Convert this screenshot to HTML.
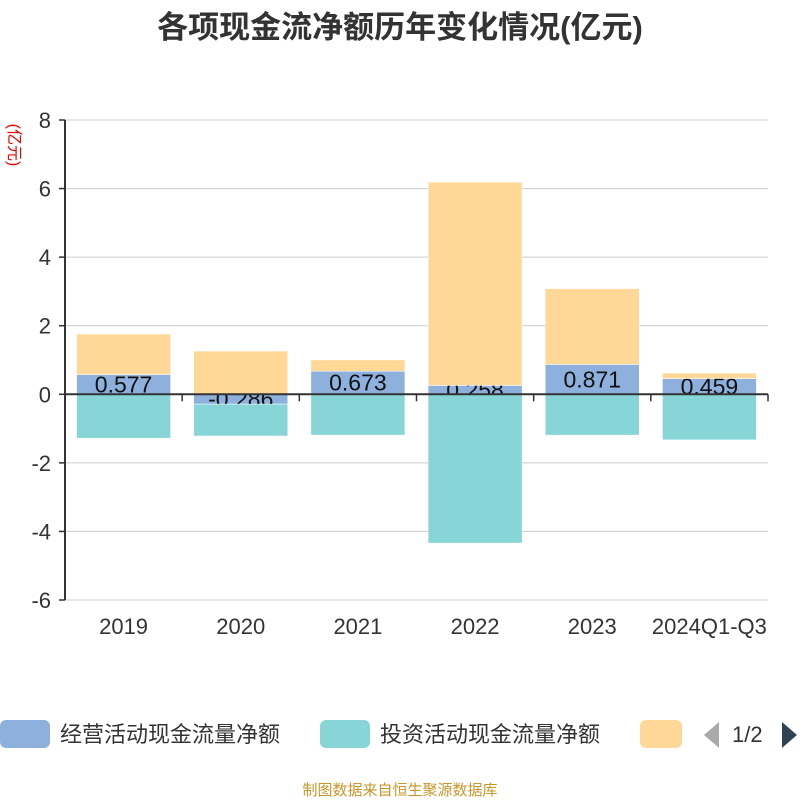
<!DOCTYPE html>
<html><head><meta charset="utf-8"><style>
body{margin:0;background:#fff;width:800px;height:800px;overflow:hidden;font-family:"Liberation Sans","Noto Sans CJK SC",sans-serif}
</style></head><body>
<svg id="c" width="800" height="800" style="font-family:'Liberation Sans','Noto Sans CJK SC',sans-serif">
<text x="400" y="38" text-anchor="middle" font-size="31" font-weight="bold" fill="#333">各项现金流净额历年变化情况(亿元)</text>
<text transform="translate(9,145) rotate(90)" text-anchor="middle" font-size="16" fill="#e00">(亿元)</text>
<g id="grid"></g><g id="bars"></g><g id="axes"></g>
<g font-size="22" fill="#333">
<rect x="0" y="720" width="50" height="28" rx="6" fill="#8eb0dc"/>
<text x="60" y="742">经营活动现金流量净额</text>
<rect x="320" y="720" width="50" height="28" rx="6" fill="#88d5d8"/>
<text x="380" y="742">投资活动现金流量净额</text>
<rect x="640" y="720" width="42" height="28" rx="6" fill="#ffd898"/>
<polygon points="719,722 719,748 704,735" fill="#aaa"/>
<text x="732" y="742">1/2</text>
<polygon points="782,722 782,748 797,735" fill="#2f4554"/>
</g>
<text x="400" y="795" text-anchor="middle" font-size="15" fill="#c8962a">制图数据来自恒生聚源数据库</text>
</svg>
<script>
const categories=["2019","2020","2021","2022","2023","2024Q1-Q3"];
const operating=[0.577,-0.286,0.673,0.258,0.871,0.459];
const investing=[-1.28,-0.93,-1.19,-4.34,-1.19,-1.33];
const financing=[1.18,1.26,0.33,5.93,2.21,0.16];
const yTicks=[-6,-4,-2,0,2,4,6,8];
const NS="http://www.w3.org/2000/svg";
const L=65,R=768,T=120,B=600,yMin=-6,yMax=8;
const y=v=>T+(yMax-v)/(yMax-yMin)*(B-T);
const band=(R-L)/categories.length;
const xc=i=>L+band*(i+0.5);
const bw=94;
function mk(tag,attrs,parent){const e=document.createElementNS(NS,tag);for(const k in attrs)e.setAttribute(k,attrs[k]);parent.appendChild(e);return e;}
const grid=document.getElementById('grid'),bars=document.getElementById('bars'),axes=document.getElementById('axes');
yTicks.forEach(t=>{
 const l=mk('line',{x1:L,x2:R,y1:y(t),y2:y(t),stroke:'#ccc','stroke-width':1},grid);
 
 
 const tk=mk('line',{x1:L-6,x2:L,y1:y(t),y2:y(t),stroke:'#333','stroke-width':1.5},axes);
 
 
 const tx=mk('text',{x:L-14,y:y(t)+8,'text-anchor':'end','font-size':22,fill:'#333'},axes);
 tx.textContent=t;
 
 
});
const ya=mk('line',{x1:L,x2:L,y1:T,y2:B,stroke:'#333','stroke-width':2},axes);


const xa=mk('line',{x1:L,x2:R,y1:y(0),y2:y(0),stroke:'#333','stroke-width':2},axes);


for(let i=0;i<=categories.length;i++){
 const tk=mk('line',{x1:L+band*i,x2:L+band*i,y1:y(0),y2:y(0)+7,stroke:'#333','stroke-width':1.5},axes);
 
 
}
categories.forEach((c,i)=>{
 const tx=mk('text',{x:xc(i),y:634,'text-anchor':'middle','font-size':22,fill:'#333'},axes);
 tx.textContent=c;
 
 
});
function seg(a,b,i,col,name){
 const r=mk('rect',{x:xc(i)-bw/2,y:Math.min(y(a),y(b)),width:bw,height:Math.abs(y(a)-y(b)),fill:col,stroke:'#fff','stroke-width':0.5},bars);
 
 
}
operating.forEach((v,i)=>seg(0,v,i,'#8eb0dc','bar-operating-'+categories[i]));
operating.forEach((v,i)=>{
 const tx=mk('text',{x:xc(i),y:(y(0)+y(v))/2+8,'text-anchor':'middle','font-size':23,fill:'#111'},bars);
 tx.textContent=v.toFixed(3);
 
 
});
investing.forEach((v,i)=>{const base=Math.min(0,operating[i]);seg(base,base+v,i,'#88d5d8','bar-investing-'+categories[i]);});
financing.forEach((v,i)=>{const base=Math.max(0,operating[i]);seg(base,base+v,i,'#ffd898','bar-financing-'+categories[i]);});
</script>
</body></html>
